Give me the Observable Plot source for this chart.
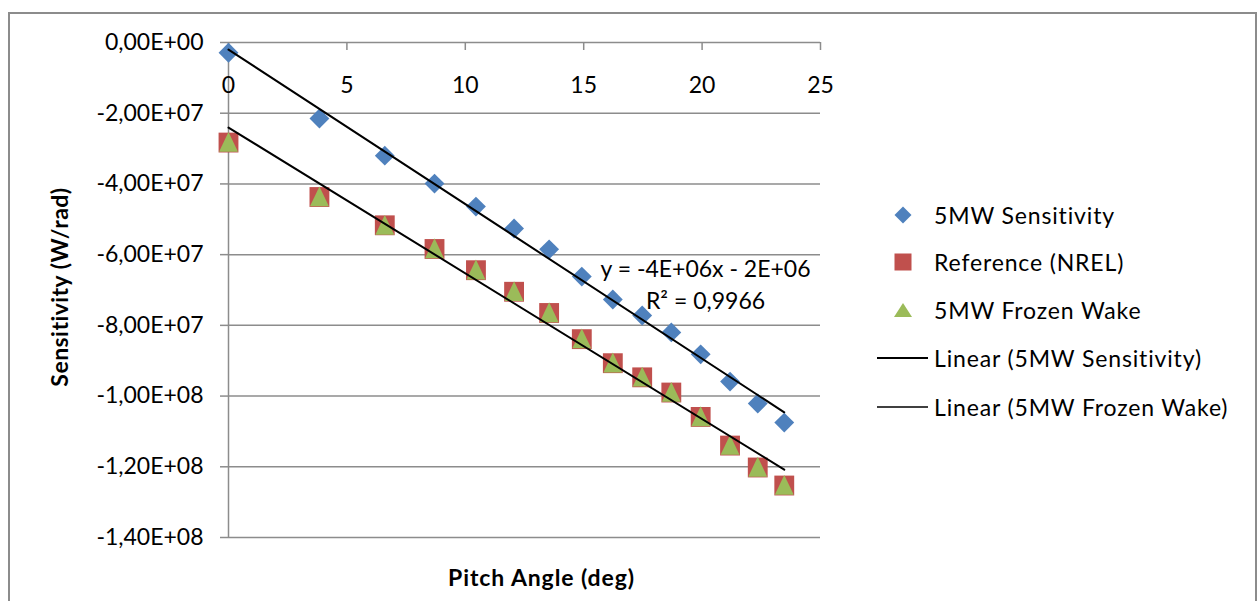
<!DOCTYPE html>
<html><head><meta charset="utf-8">
<script src="https://cdn.jsdelivr.net/npm/d3@7"></script>
<script src="https://cdn.jsdelivr.net/npm/@observablehq/plot@0.6"></script>
<style>
html,body{margin:0;padding:0;background:#fff;overflow:hidden;}
#wrap{position:relative;width:1257px;height:601px;font-family:Lato, sans-serif;}
#border{position:absolute;left:8px;top:12px;width:1249px;height:700px;border:2px solid #8c8c8c;box-sizing:border-box;pointer-events:none;}
#legend{position:absolute;left:870px;top:0;font-size:23px;color:#000;letter-spacing:0.85px;}
.row{position:absolute;left:0;height:30px;display:flex;align-items:center;white-space:nowrap;}
.row svg{width:60px;height:30px;flex:none;}
.row span{margin-left:4px;}
</style></head>
<body><div id="wrap"><div id="chart"></div><div id="legend"></div><div id="border"></div></div>
<script>
// Pitch angle (deg)
const pitch = [0, 3.84, 6.6, 8.7, 10.45, 12.06, 13.54, 14.92, 16.23, 17.47, 18.7, 19.94, 21.18, 22.35, 23.47];
// Sensitivity (W/rad)
const sens5MW = [-2.9e6, -2.15e7, -3.2e7, -3.99e7, -4.64e7, -5.26e7, -5.85e7, -6.62e7, -7.27e7, -7.72e7, -8.2e7, -8.82e7, -9.59e7, -1.021e8, -1.075e8];
const refNREL = [-2.83e7, -4.37e7, -5.17e7, -5.84e7, -6.44e7, -7.05e7, -7.65e7, -8.39e7, -9.07e7, -9.47e7, -9.9e7, -1.059e8, -1.14e8, -1.202e8, -1.253e8];
const frozenWake = [-2.81e7, -4.35e7, -5.16e7, -5.82e7, -6.42e7, -7.03e7, -7.63e7, -8.37e7, -9.05e7, -9.45e7, -9.88e7, -1.057e8, -1.138e8, -1.2e8, -1.251e8];

const seriesNames = ["5MW Sensitivity", "Reference (NREL)", "5MW Frozen Wake"];
const trendNames = ["Linear (5MW Sensitivity)", "Linear (5MW Frozen Wake)"];
const xTicks = [0, 5, 10, 15, 20, 25];
const yTicks = [0, -2e7, -4e7, -6e7, -8e7, -1e8, -1.2e8, -1.4e8];
const equationText = "y = -4E+06x - 2E+06\nR² = 0,9966";
const xTitle = "Pitch Angle (deg)";
const yTitle = "Sensitivity (W/rad)";

const colors = {blue: "#4F81BD", red: "#C0504D", green: "#9BBB59", grid: "#8c8c8c"};

const mk = (ys) => pitch.map((x, i) => ({x, y: ys[i]}));
const dSens = mk(sens5MW), dRef = mk(refNREL), dFrozen = mk(frozenWake);

// custom symbols (size = pi r^2)
const symDiamond = {draw(c, size) { const h = Math.sqrt(size) / 2; c.moveTo(0, -h); c.lineTo(h, 0); c.lineTo(0, h); c.lineTo(-h, 0); c.closePath(); }};
const symSquare = {draw(c, size) { const h = Math.sqrt(size) / 2; c.rect(-h, -h, 2 * h, 2 * h); }};
const symTriangle = {draw(c, size) { const h = Math.sqrt(size) / 2; c.moveTo(0, -h); c.lineTo(h * 0.95, h); c.lineTo(-h * 0.95, h); c.closePath(); }};

function sci(d) {
  if (d === 0) return "0,00E+00";
  const sign = d < 0 ? "-" : "";
  const a = Math.abs(d);
  let e = Math.floor(Math.log10(a));
  let m = a / Math.pow(10, e);
  if (+m.toFixed(2) >= 10) { m /= 10; e += 1; }
  return sign + m.toFixed(2).replace(".", ",") + "E+" + String(e).padStart(2, "0");
}

const R = 11.2;
const chart = Plot.plot({
  width: 1257, height: 601,
  marginLeft: 228, marginRight: 437, marginTop: 42, marginBottom: 64,
  style: {fontFamily: "Lato, sans-serif", fontSize: "23px", color: "#000", background: "transparent", overflow: "visible"},
  x: {domain: [0, 25], axis: null},
  y: {domain: [-1.4e8, 0], axis: null},
  marks: [
    Plot.gridY(yTicks, {stroke: colors.grid, strokeOpacity: 1, strokeWidth: 1.5}),
    Plot.ruleX([0], {stroke: colors.grid, strokeWidth: 1.5}),
    Plot.axisY({ticks: yTicks, tickFormat: sci, tickSize: 8, tickPadding: 17, stroke: colors.grid, strokeWidth: 1.5, label: null}),
    Plot.ruleX(xTicks, {x: d => d, y1: 0, y2: 0, insetBottom: -8, stroke: colors.grid, strokeWidth: 1.5}),
    Plot.text(xTicks, {x: d => d, y: 0, dy: 43, text: d => String(d), fill: "#000"}),
    Plot.text([yTitle], {frameAnchor: "left", dx: -168, dy: -3, rotate: -90, textAnchor: "middle", lineAnchor: "middle", fontWeight: "bold", fill: "#000"}),
    Plot.text([xTitle], {frameAnchor: "bottom", dx: 17, dy: 41, textAnchor: "middle", lineAnchor: "middle", fontWeight: "bold", fill: "#000"}),
    Plot.dot(dSens, {x: "x", y: "y", symbol: symDiamond, r: R, fill: colors.blue, stroke: null}),
    Plot.dot(dRef, {x: "x", y: "y", symbol: symSquare, r: R, fill: colors.red, stroke: null}),
    Plot.dot(dFrozen, {x: "x", y: "y", symbol: symTriangle, r: R, fill: colors.green, stroke: null}),
    Plot.linearRegressionY(dSens, {x: "x", y: "y", ci: 0, stroke: "#000", strokeWidth: 2}),
    Plot.linearRegressionY(dFrozen, {x: "x", y: "y", ci: 0, stroke: "#000", strokeWidth: 2}),
    Plot.text([equationText], {frameAnchor: "top-left", dx: 477, dy: 240, lineAnchor: "middle", textAnchor: "middle", lineHeight: 1.43, fill: "#000"})
  ]
});
// letter spacing for the bold axis titles (Lato is narrower than the original font)
chart.querySelectorAll("text").forEach(t => {
  if (t.textContent === xTitle) t.style.letterSpacing = "0.9px";
  if (t.textContent === yTitle) t.style.letterSpacing = "0.45px";
});
document.getElementById("chart").appendChild(chart);

// legend
const legend = document.getElementById("legend");
const rowsY = [215, 262, 310, 358, 407];
const icons = [
  `<svg viewBox="0 0 60 30"><path d="M33,6.5 L41.5,15 L33,23.5 L24.5,15 Z" fill="${colors.blue}"/></svg>`,
  `<svg viewBox="0 0 60 30"><rect x="24.5" y="6.5" width="17" height="17" fill="${colors.red}"/></svg>`,
  `<svg viewBox="0 0 60 30"><path d="M33,8 L42,22 L24,22 Z" fill="${colors.green}"/></svg>`,
  `<svg viewBox="0 0 60 30"><line x1="7" y1="15" x2="58" y2="15" stroke="#000" stroke-width="2"/></svg>`,
  `<svg viewBox="0 0 60 30"><line x1="7" y1="15" x2="58" y2="15" stroke="#000" stroke-width="1.6"/></svg>`
];
const labels = [...seriesNames, ...trendNames];
labels.forEach((t, i) => {
  const row = document.createElement("div");
  row.className = "row";
  row.style.top = (rowsY[i] - 15) + "px";
  row.innerHTML = icons[i] + `<span>${t}</span>`;
  legend.appendChild(row);
});
</script></body></html>
